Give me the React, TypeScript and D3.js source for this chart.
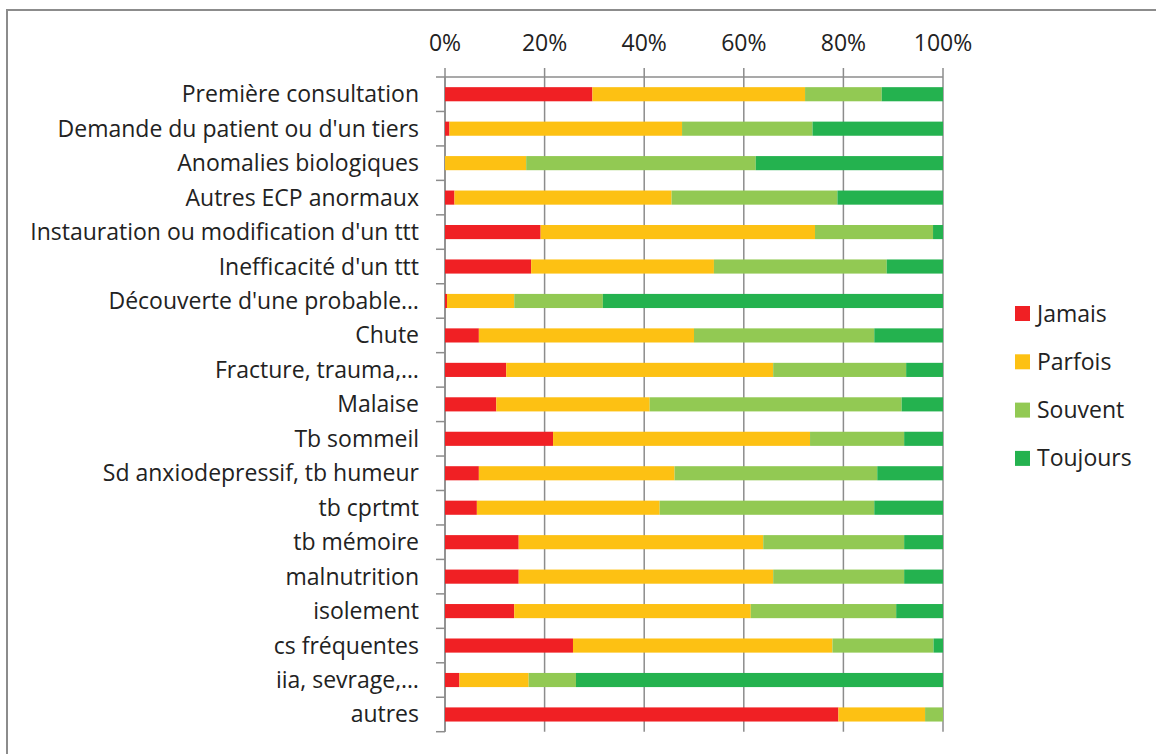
import React from "react";
import * as d3 from "d3";

const categories = [
  "Première consultation",
  "Demande du patient ou d'un tiers",
  "Anomalies biologiques",
  "Autres ECP anormaux",
  "Instauration ou modification d'un ttt",
  "Inefficacité d'un ttt",
  "Découverte d'une probable…",
  "Chute",
  "Fracture, trauma,…",
  "Malaise",
  "Tb sommeil",
  "Sd anxiodepressif, tb humeur",
  "tb cprtmt",
  "tb mémoire",
  "malnutrition",
  "isolement",
  "cs fréquentes",
  "iia, sevrage,…",
  "autres",
];

const jamais = [29.6, 0.9, 0, 1.9, 19.2, 17.3, 0.4, 6.8, 12.3, 10.3, 21.7, 6.8, 6.4, 14.8, 14.8, 13.9, 25.7, 2.9, 79.0];
const parfois = [42.7, 46.7, 16.3, 43.6, 55.1, 36.7, 13.5, 43.2, 53.6, 30.8, 51.6, 39.3, 36.7, 49.1, 51.1, 47.5, 52.1, 13.9, 17.4];
const souvent = [15.4, 26.2, 46.1, 33.3, 23.7, 34.7, 17.8, 36.2, 26.7, 50.6, 18.9, 40.7, 43.1, 28.3, 26.3, 29.2, 20.3, 9.5, 3.6];
const toujours = [12.3, 26.2, 37.6, 21.2, 2.0, 11.3, 68.3, 13.8, 7.4, 8.3, 7.8, 13.2, 13.8, 7.8, 7.8, 9.4, 1.9, 73.7, 0];

const seriesNames = ["Jamais", "Parfois", "Souvent", "Toujours"];
const seriesColors = ["#F02024", "#FDC113", "#92C953", "#24B24F"];
const tickValues = [0, 20, 40, 60, 80, 100];

const W = 1156;
const H = 754;
const FONT = "'Open Sans', 'DejaVu Sans', sans-serif";
const FS = 23;

export default function App() {
  const x = d3.scaleLinear().domain([0, 100]).range([445, 943]);
  const y = d3.scaleBand<string>().domain(categories).range([77, 731.7]).padding(0);
  const barH = y.step() * 0.41;

  const rows = categories.map((c, i) => ({
    cat: c,
    Jamais: jamais[i],
    Parfois: parfois[i],
    Souvent: souvent[i],
    Toujours: toujours[i],
  }));
  const stack = d3.stack<any>().keys(seriesNames);
  const layers = stack(rows);

  const grey = "#8C8C8C";
  const yTop = y.range()[0];
  const yBot = y.range()[1];

  return (
    <svg
      width={W}
      height={H}
      style={{ position: "fixed", left: 0, top: 0, background: "#fff" }}
      fontFamily={FONT}
    >
      <rect x={0} y={0} width={W} height={H} fill="#fff" />
      {/* outer frame */}
      <path d={`M7,${H + 5} V10 H${W + 5}`} fill="none" stroke={grey} strokeWidth={2} />

      {/* gridlines */}
      {tickValues.map((t) => (
        <line key={"g" + t} x1={x(t)} x2={x(t)} y1={yTop - 9} y2={yBot} stroke={grey} strokeWidth={1.5} />
      ))}
      {/* top axis line */}
      <line x1={x(0)} x2={x(100)} y1={yTop} y2={yTop} stroke={grey} strokeWidth={1.5} />
      {/* left axis line */}
      <line x1={x(0)} x2={x(0)} y1={yTop} y2={yBot} stroke={grey} strokeWidth={1.5} />
      {/* category ticks */}
      {[...categories.map((c) => y(c) as number), yBot].map((v, i) => (
        <line key={"ct" + i} x1={x(0) - 9} x2={x(0)} y1={v} y2={v} stroke={grey} strokeWidth={1.5} />
      ))}

      {/* bars */}
      {layers.map((layer, li) => (
        <g key={layer.key} fill={seriesColors[li]}>
          {layer.map((d, i) => {
            const w = x(d[1]) - x(d[0]);
            if (w <= 0) return null;
            const cy = (y(categories[i]) as number) + y.bandwidth() / 2;
            return <rect key={i} x={x(d[0])} y={cy - barH / 2} width={w} height={barH} />;
          })}
        </g>
      ))}

      {/* x tick labels */}
      {tickValues.map((t) => (
        <text key={"tl" + t} x={x(t)} y={51} textAnchor="middle" fontSize={FS} fill="#222">
          {t + "%"}
        </text>
      ))}

      {/* category labels */}
      {categories.map((c) => (
        <text
          key={c}
          x={419}
          y={(y(c) as number) + y.bandwidth() / 2 + 8}
          textAnchor="end"
          fontSize={FS}
          fill="#222"
        >
          {c}
        </text>
      ))}

      {/* legend */}
      {seriesNames.map((s, i) => {
        const cy = 313.5 + i * 48.3;
        return (
          <g key={s}>
            <rect x={1015} y={cy - 7.5} width={15} height={15} fill={seriesColors[i]} />
            <text x={1037} y={cy + 8} fontSize={FS} fill="#222">
              {s}
            </text>
          </g>
        );
      })}
    </svg>
  );
}
